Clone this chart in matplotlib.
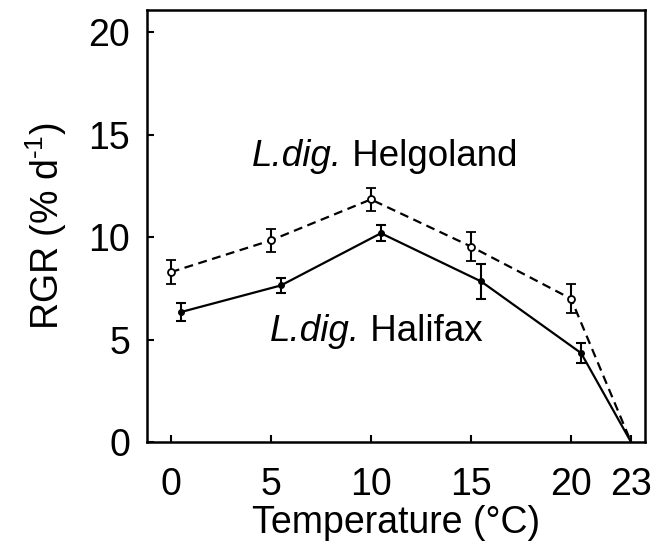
import matplotlib
matplotlib.use("Agg")
import matplotlib.pyplot as plt

plt.rcParams['font.family'] = ['Liberation Sans', 'DejaVu Sans']
plt.rcParams['mathtext.fontset'] = 'custom'
plt.rcParams['mathtext.rm'] = 'Liberation Sans'
plt.rcParams['mathtext.it'] = 'Liberation Sans:italic'

# Data
helgo_x = [0, 5, 10, 15, 20, 23]
helgo_y = [8.3, 9.85, 11.85, 9.55, 7.0, 0.0]
helgo_err = [0.6, 0.55, 0.55, 0.7, 0.7, 0.0]

hali_x = [0.5, 5.5, 10.5, 15.5, 20.5, 23]
hali_y = [6.35, 7.65, 10.2, 7.85, 4.35, 0.0]
hali_err = [0.45, 0.35, 0.4, 0.85, 0.5, 0.0]

xticks = [0, 5, 10, 15, 20, 23]
yticks = [0, 5, 10, 15, 20]

FS = 27

fig = plt.figure(figsize=(6.61, 5.5), dpi=100)
ax = fig.add_axes([0.222, 0.196, 0.754, 0.786])

# Helgoland (dashed, open circles)
ax.plot(helgo_x, helgo_y, linestyle=(0, (4, 2.5)), color='black', lw=1.6, zorder=2)
ax.errorbar(helgo_x[:-1], helgo_y[:-1], yerr=helgo_err[:-1], fmt='o', ms=5,
            mfc='white', mec='black', mew=1.3, ecolor='black', elinewidth=1.5,
            capsize=3.5, capthick=1.5, zorder=3)

# Halifax (solid, filled)
ax.plot(hali_x, hali_y, linestyle='-', color='black', lw=1.6, zorder=2)
ax.errorbar(hali_x[:-1], hali_y[:-1], yerr=hali_err[:-1], fmt='o', ms=4,
            mfc='black', mec='black', ecolor='black', elinewidth=1.5,
            capsize=3.5, capthick=1.5, zorder=3)

ax.set_xlim(-1.2, 23.7)
ax.set_ylim(0, 21.1)
ax.set_xticks(xticks)
ax.set_yticks(yticks)
ax.set_xticklabels([str(t) for t in xticks])
ax.set_yticklabels([str(t) for t in yticks])
ax.tick_params(direction='in', length=5, width=1.5, labelsize=FS)
ax.tick_params(axis='x', pad=18)
ax.tick_params(axis='y', pad=12)
for s in ax.spines.values():
    s.set_linewidth(1.8)

ax.set_xlabel('Temperature (°C)', fontsize=FS, labelpad=1)
ax.set_ylabel(r'RGR (% d$^{\text{-1}}$)', fontsize=FS, labelpad=14)


def label(x, y, species, site):
    t1 = ax.text(x, y, species, fontsize=26.5, style='italic', ha='right', va='baseline')
    ax.annotate(' ' + site, xy=(1, 0), xycoords=t1, fontsize=26.5,
                ha='left', va='bottom')


label(8.55, 13.5, 'L.dig.', 'Helgoland')
label(9.45, 4.95, 'L.dig.', 'Halifax')

fig.savefig('out.png', dpi=100)
